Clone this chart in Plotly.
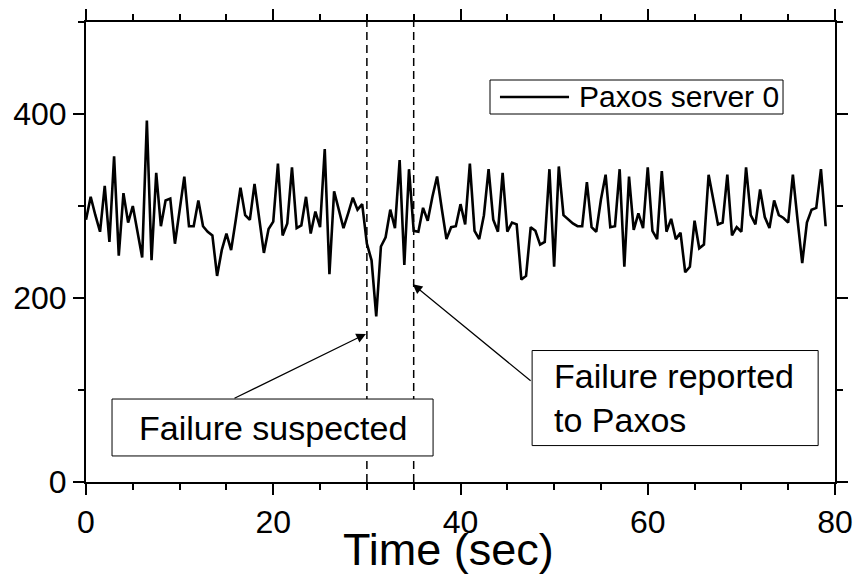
import plotly.graph_objects as go

# ---- data ----
time_sec = [i * 0.5 for i in range(159)]
paxos_server_0 = [
    285, 310, 290, 272, 322, 261, 354, 246, 314, 282,
    300, 272, 244, 393, 241, 336, 278, 306, 308, 259,
    296, 332, 278, 278, 306, 278, 272, 268, 224, 252,
    270, 252, 285, 320, 290, 285, 324, 287, 249, 275,
    283, 346, 268, 281, 342, 276, 279, 310, 270, 294,
    277, 362, 226, 316, 296, 276, 292, 309, 296, 302,
    259, 241, 180, 256, 266, 296, 276, 350, 236, 340,
    273, 272, 298, 284, 310, 332, 297, 264, 277, 278,
    302, 280, 346, 273, 264, 290, 340, 285, 272, 336,
    272, 282, 280, 220, 224, 277, 273, 258, 261, 340,
    234, 343, 290, 285, 281, 278, 278, 326, 277, 272,
    307, 334, 277, 278, 340, 234, 332, 274, 292, 276,
    342, 273, 264, 338, 272, 286, 264, 271, 228, 234,
    284, 254, 258, 334, 306, 280, 282, 334, 268, 277,
    272, 342, 290, 280, 318, 288, 276, 306, 290, 287,
    282, 334, 285, 238, 282, 296, 298, 340, 278,
]
series_name = "Paxos server 0"
event_times = [30, 35]
x_ticks = [0, 20, 40, 60, 80]
y_ticks = [0, 200, 400]
x_title = "Time (sec)"
label_suspected = "Failure suspected"
label_reported = "Failure reported<br>to Paxos"

FONT = "Liberation Sans, Arial, Helvetica, sans-serif"

fig = go.Figure()
fig.add_trace(go.Scatter(
    x=time_sec, y=paxos_server_0, mode="lines", name=series_name,
    line=dict(color="black", width=2.6), showlegend=False,
))

shapes = []
for t in event_times:
    shapes.append(dict(type="line", xref="x", yref="y", x0=t, x1=t, y0=0, y1=500,
                       line=dict(color="black", width=1.5, dash="8px,5px")))
# annotation boxes
shapes.append(dict(type="rect", xref="x", yref="y", x0=2.78, x1=37.07, y0=28.3, y1=90.2,
                   line=dict(color="black", width=1), fillcolor="white", layer="above"))
shapes.append(dict(type="rect", xref="x", yref="y", x0=47.65, x1=78.2, y0=39.6, y1=142.9,
                   line=dict(color="black", width=1), fillcolor="white", layer="above"))
# legend
shapes.append(dict(type="rect", xref="paper", yref="paper", x0=0.5394, x1=0.9306, y0=0.80, y1=0.8739,
                   line=dict(color="black", width=1), fillcolor="white", layer="above"))
shapes.append(dict(type="line", xref="paper", yref="paper", x0=0.5527, x1=0.6449, y0=0.837, y1=0.837,
                   line=dict(color="black", width=2.6), layer="above"))

annotations = [
    dict(xref="paper", yref="paper", x=0.6555, y=0.837, xanchor="left", yanchor="middle",
         text=series_name, showarrow=False, font=dict(family=FONT, size=30, color="black")),
    dict(xref="x", yref="y", x=19.93, y=59.2, xanchor="center", yanchor="middle",
         text=label_suspected, showarrow=False, font=dict(family=FONT, size=34, color="black")),
    dict(xref="x", yref="y", x=49.8, y=91.3, xanchor="left", yanchor="middle", align="left",
         text=label_reported, showarrow=False, font=dict(family=FONT, size=34, color="black")),
    dict(xref="x", yref="y", x=29.9, y=161, axref="x", ayref="y", ax=15.7, ay=90.2,
         text="", showarrow=True, arrowhead=2, arrowsize=1.6, arrowwidth=1.2, arrowcolor="black",
         standoff=0, startstandoff=0),
    dict(xref="x", yref="y", x=34.9, y=215, axref="x", ayref="y", ax=47.65, ay=108.7,
         text="", showarrow=True, arrowhead=2, arrowsize=1.6, arrowwidth=1.2, arrowcolor="black",
         standoff=0, startstandoff=0),
    # x-axis title
    dict(xref="paper", yref="paper", x=0.484, y=-0.146, xanchor="center", yanchor="middle",
         text=x_title, showarrow=False, font=dict(family=FONT, size=45, color="black")),
]

axis_common = dict(
    showline=True, linecolor="black", linewidth=2, mirror="allticks",
    ticks="outside", ticklen=11, tickwidth=2, tickcolor="black",
    showgrid=False, zeroline=False, automargin=False,
    tickfont=dict(family=FONT, size=32, color="black"),
)

fig.update_layout(
    width=855, height=575,
    margin=dict(l=86, r=20, t=22, b=93),
    paper_bgcolor="white", plot_bgcolor="white",
    shapes=shapes, annotations=annotations,
    xaxis=dict(range=[0, 80], tickvals=x_ticks, **axis_common,
               minor=dict(dtick=5, ticklen=6, tickwidth=2, ticks="outside", tickcolor="black")),
    yaxis=dict(range=[0, 500], tickvals=y_ticks, **axis_common,
               minor=dict(dtick=100, ticklen=6, tickwidth=2, ticks="outside", tickcolor="black")),
)

fig.write_html("out.html")
